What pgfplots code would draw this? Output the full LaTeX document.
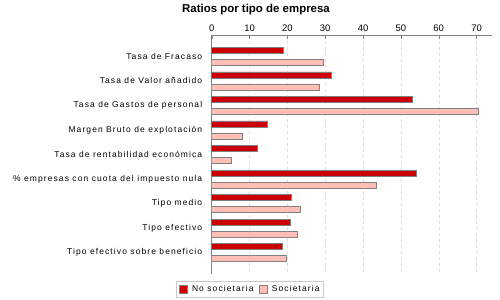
\documentclass[border=0pt]{standalone}
\usepackage{fontspec}
\setmainfont{Liberation Sans}
\usepackage{pgfplots}
\usepackage{pgfplotstable}
\pgfplotsset{compat=1.18}
\definecolor{nosoc}{RGB}{204,0,0}
\definecolor{soc}{RGB}{255,190,182}
\definecolor{barline}{RGB}{128,128,128}
\definecolor{gridc}{RGB}{222,222,222}
\newcommand{\lbl}{\fontsize{8.5}{10}\selectfont\addfontfeatures{LetterSpace=13}}

% idx 0 = Tasa de Fracaso (top row)
\pgfplotstableread{
idx nosoc soc
0 19.0 29.6
1 31.6 28.5
2 53.1 70.5
3 14.7 8.1
4 12.1 5.2
5 54.1 43.5
6 21.1 23.4
7 20.8 22.6
8 18.7 19.6
}\ratios

\begin{document}
\begin{tikzpicture}
\begin{axis}[
    at={(0,0)}, anchor=north west,
    scale only axis, width=280bp, height=239bp,
    xbar, bar width=6bp,
    xmin=0, xmax=74,
    ymin=-0.87, ymax=8.87, y dir=reverse,
    axis x line*=top, axis y line*=left,
    axis line style={barline},
    xtick={0,10,...,70},
    ytick={0,...,8},
    yticklabels={Tasa de Fracaso, Tasa de Valor añadido, Tasa de Gastos de personal,
        Margen Bruto de explotación, Tasa de rentabilidad económica,
        \% empresas con cuota del impuesto nula, Tipo medio, Tipo efectivo,
        Tipo efectivo sobre beneficio},
    /pgf/number format/assume math mode=true,
    xticklabel style={font=\fontsize{9.5}{10}\selectfont},
    yticklabel style={font=\lbl, xshift=-2bp},
    major tick length=4bp,
    x tick style={barline},
    y tick style={draw=none},
    xmajorgrids=true,
    grid style={gridc, dash pattern=on 3bp off 3bp},
    legend columns=2,
    legend style={at={(0.137,-0.063)}, anchor=center, draw={rgb,255:red,200;green,200;blue,200},
        font=\lbl, inner sep=2bp, column sep=3bp},
    legend image code/.code={\draw[#1] (0bp,-4bp) rectangle (8bp,4bp);},
]
\addplot[fill=nosoc, draw=barline, bar shift=6bp] table[x=nosoc, y=idx] {\ratios};
\addplot[fill=soc, draw=barline, bar shift=-6bp] table[x=soc, y=idx] {\ratios};
\legend{No societaria, Societaria}
\end{axis}
\node[font=\bfseries\fontsize{11.5}{13}\selectfont] at (44.3bp,25bp) {Ratios por tipo de empresa};
\pgfresetboundingbox
\path[use as bounding box] (-211.7bp,35bp) rectangle (288.3bp,-265bp);
\end{tikzpicture}
\end{document}
